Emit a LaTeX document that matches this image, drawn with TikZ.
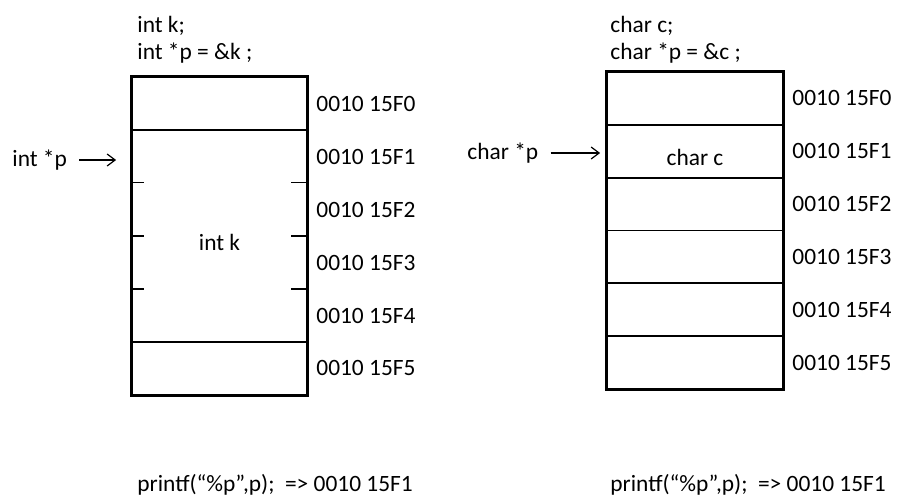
\documentclass[tikz,border=0pt]{standalone}
\usepackage{fontspec}
\setmainfont{Carlito}
\usetikzlibrary{arrows.meta}
\begin{document}
\begin{tikzpicture}[x=0.5pt,y=-0.5pt,
  every node/.style={font=\fontsize{11.7}{14}\selectfont, inner sep=0pt},
  cell/.style={draw, line width=0.9pt, minimum width=87.5pt, minimum height=26.4pt},
  outer/.style={line width=1.2pt},
  addr/.style={anchor=west},
  code/.style={anchor=west},
  tick/.style={line width=0.9pt},
  ptr/.style={line width=0.6pt, -{Straight Barb[length=4pt,width=6pt,line width=0.6pt]}}
]
\useasboundingbox (0,0) rectangle (898,500);

% ---------- left: int ----------
\node[code] (lc1) at (137,26) {int k;};
\node[code] (lc2) at (137,53) {int *p = \&k ;};

\node[cell] (L0) at (219.5,103.5) {};
\node[cell, minimum height=106pt] (LK) at (219.5,236) {};
\node[cell] (L5) at (219.5,368) {};
\draw[outer] (L0.north west) rectangle (L5.south east);
\node (lk) at (219.5,242) {int k};

\foreach \y in {182.5,236,289}{
  \draw[tick] (132,\y) -- (144,\y);
  \draw[tick] (291,\y) -- (307,\y);
}

\node[addr] (la0) at (316,103.5) {0010 15F0};
\node[addr] (la1) at (316,156.5) {0010 15F1};
\node[addr] (la2) at (316,209.5) {0010 15F2};
\node[addr] (la3) at (316,262.5) {0010 15F3};
\node[addr] (la4) at (316,315.5) {0010 15F4};
\node[addr] (la5) at (316,368) {0010 15F5};

\node[anchor=west] (lp) at (12,160) {int *p};
\draw[ptr, shorten <=6pt, shorten >=7.5pt] (lp.east) -- (lp.east -| LK.west);

\node[code] (lpf) at (137,485) {printf(“\%p”,p);\ \ => 0010 15F1};

% ---------- right: char ----------
\node[code] (rc1) at (610,26) {char c;};
\node[code] (rc2) at (610,53) {char *p = \&c ;};

\foreach \i in {0,...,5}{
  \node[cell, minimum width=88pt] (R\i) at (695,{98.4+52.83*\i}) {};
}
\draw[outer] (R0.north west) rectangle (R5.south east);
\node (rcc) at (695,157) {char c};

\foreach \i/\t in {0/0010 15F0,1/0010 15F1,2/0010 15F2,3/0010 15F3,4/0010 15F4,5/0010 15F5}{
  \node[addr] (ra\i) at (792,{98.4+52.83*\i}) {\t};
}

\node[anchor=west] (rp) at (467,153) {char *p};
\draw[ptr, shorten <=6pt, shorten >=3pt] (rp.east) -- (rp.east -| R1.west);

\node[code] (rpf) at (610,485) {printf(“\%p”,p);\ \ => 0010 15F1};
\end{tikzpicture}
\end{document}
